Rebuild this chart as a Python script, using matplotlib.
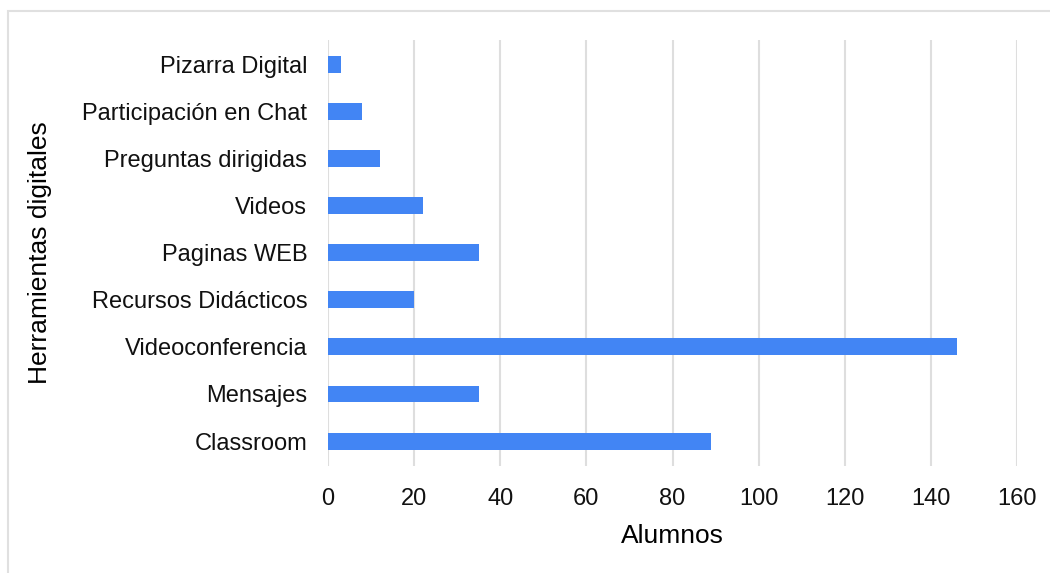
import matplotlib
matplotlib.use("Agg")
import matplotlib.pyplot as plt
from matplotlib.patches import Rectangle

# Datos
herramientas = ["Pizarra Digital", "Participación en Chat", "Preguntas dirigidas",
                "Videos", "Paginas WEB", "Recursos Didácticos",
                "Videoconferencia", "Mensajes", "Classroom"]
alumnos = [3, 8, 12, 22, 35, 20, 146, 35, 89]
xticks = [0, 20, 40, 60, 80, 100, 120, 140, 160]

plt.rcParams['font.family'] = ['Liberation Sans', 'DejaVu Sans']

fig = plt.figure(figsize=(10.5, 5.73), dpi=100)
ax = fig.add_axes([328/1050, 1 - 466/573, (1017 - 328)/1050, (466 - 40)/573])

pos = list(range(len(herramientas)))
ax.barh(pos, alumnos, height=0.36, color='#4285F4', zorder=3)

ax.set_xlim(0, 160)
ax.set_ylim(len(herramientas) - 0.47, -0.52)
ax.set_xticks(xticks)
ax.set_yticks(pos)
ax.set_yticklabels(herramientas)
ax.tick_params(axis='both', length=0, labelsize=17, colors='#111111')
ax.tick_params(axis='y', pad=15)
ax.tick_params(axis='x', pad=16)
ax.grid(axis='x', color='#dedede', linewidth=1.5, zorder=0)
for s in ax.spines.values():
    s.set_visible(False)

ax.set_xlabel('Alumnos', fontsize=19, labelpad=10)
ax.set_ylabel('Herramientas digitales', fontsize=19, labelpad=22)

# marco gris claro de la captura
fig.patches.append(Rectangle((8/1050, -0.1), 1.5, (573 - 11)/573 + 0.1,
                             transform=fig.transFigure, fill=False,
                             edgecolor='#e0e0e0', linewidth=1.5))

fig.savefig('out.png', dpi=100)
